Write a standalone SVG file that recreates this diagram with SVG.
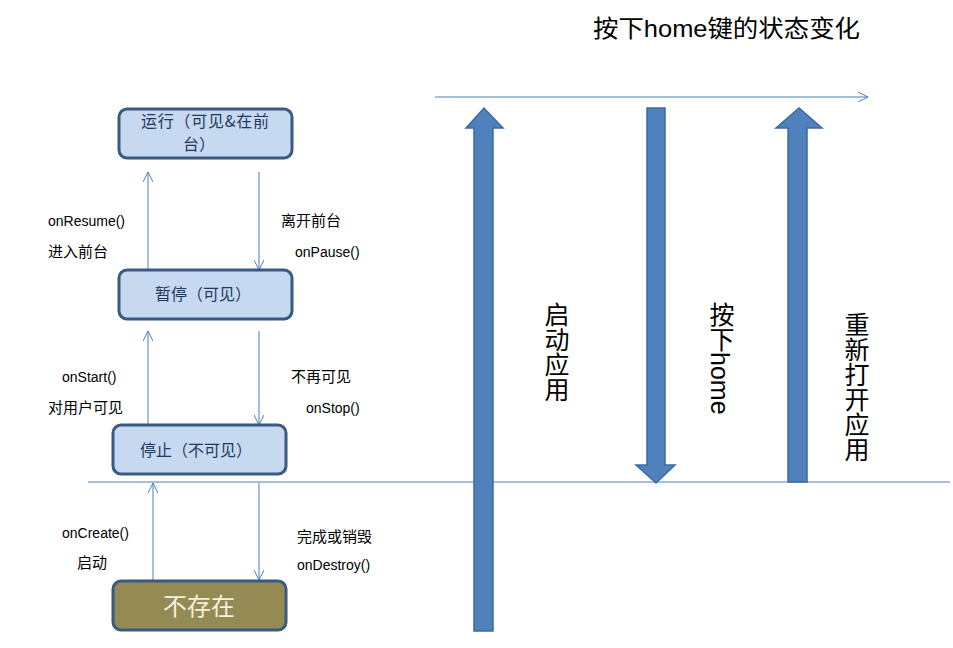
<svg xmlns="http://www.w3.org/2000/svg" width="953" height="648" viewBox="0 0 953 648">
<defs>
<marker id="open" viewBox="0 0 10 10" refX="10" refY="5" markerWidth="10" markerHeight="10" markerUnits="userSpaceOnUse" orient="auto">
<path d="M0,0 L10,5 L0,10" fill="none" stroke="#4a7ebb" stroke-width="1"/>
</marker>
</defs>
<style>
.box{fill:#c6d9f1;stroke:#3b5a82;stroke-width:3}
.dead{fill:#948a54;stroke:#3b5a82;stroke-width:3}
.bt{font-family:"Noto Sans CJK SC",sans-serif;font-size:16px;fill:#1f3a60;text-anchor:middle}
.lbl{font-family:"Liberation Sans","Noto Sans CJK SC",sans-serif;font-size:14px;fill:#000}
.cn{font-family:"Noto Sans CJK SC",sans-serif;font-size:15px;fill:#000}
.conn{stroke:#4a7ebb;stroke-width:1;fill:none}
.big{fill:#4f81bd;stroke:#3e6a9e;stroke-width:1.5}
.vt{font-family:"Liberation Sans","Noto Sans CJK SC",sans-serif;font-size:25px;fill:#000;writing-mode:vertical-rl}
</style>
<rect width="953" height="648" fill="#fff"/>
<text x="593" y="37" font-family="Liberation Sans,'Noto Sans CJK SC',sans-serif" font-size="24" fill="#000" textLength="267" lengthAdjust="spacingAndGlyphs">按下home键的状态变化</text>
<g id="connectors">
<line class="conn" x1="435" y1="97" x2="868" y2="97" marker-end="url(#open)"/>
<line class="conn" x1="88" y1="482" x2="950" y2="482"/>
<line class="conn" x1="148" y1="270" x2="148" y2="172" marker-end="url(#open)"/>
<line class="conn" x1="259" y1="172" x2="259" y2="270" marker-end="url(#open)"/>
<line class="conn" x1="148" y1="425" x2="148" y2="331" marker-end="url(#open)"/>
<line class="conn" x1="259" y1="331" x2="259" y2="425" marker-end="url(#open)"/>
<line class="conn" x1="153" y1="580" x2="153" y2="483" marker-end="url(#open)"/>
<line class="conn" x1="259" y1="483" x2="259" y2="580" marker-end="url(#open)"/>
<text class="lbl" x="48" y="226">onResume()</text>
<text class="cn" x="48" y="257">进入前台</text>
<text class="cn" x="281" y="226">离开前台</text>
<text class="lbl" x="295" y="257">onPause()</text>
<text class="lbl" x="62" y="382">onStart()</text>
<text class="cn" x="48" y="413">对用户可见</text>
<text class="cn" x="291" y="382">不再可见</text>
<text class="lbl" x="306" y="413">onStop()</text>
<text class="lbl" x="62" y="538">onCreate()</text>
<text class="cn" x="77" y="568">启动</text>
<text class="cn" x="297" y="542">完成或销毁</text>
<text class="lbl" x="297" y="570">onDestroy()</text>
</g>
<g id="running">
<rect class="box" x="119" y="109" width="173" height="49" rx="8"/>
<text class="bt" x="205" y="127" font-size="15" textLength="128" lengthAdjust="spacing">运行（可见&amp;在前</text>
<text class="bt" x="199" y="150" font-size="15">台）</text>
</g>
<g id="paused">
<rect class="box" x="119" y="270" width="173" height="49" rx="8"/>
<text class="bt" x="203" y="300">暂停（可见）</text>
</g>
<g id="stopped">
<rect class="box" x="113" y="425" width="173" height="49" rx="8"/>
<text class="bt" x="196" y="456">停止（不可见）</text>
</g>
<g id="nonexistent">
<rect class="dead" x="113" y="581" width="173" height="49" rx="8"/>
<text x="199" y="615" font-family="'Noto Sans CJK SC',sans-serif" font-size="24" fill="#f5f0dc" text-anchor="middle">不存在</text>
</g>
<g id="launch">
<path class="big" d="M474,631 L474,128 L466,128 L484,108 L503,128 L493,128 L493,631 Z"/>
<text class="vt" x="555" y="302">启动应用</text>
</g>
<g id="home">
<path class="big" d="M647,108 L665,108 L665,465 L675,465 L656,483 L636,465 L647,465 Z"/>
<text class="vt" x="720" y="302">按下home</text>
</g>
<g id="reopen">
<path class="big" d="M788,482 L788,128 L776,128 L799,108 L822,128 L807,128 L807,482 Z"/>
<text class="vt" x="855" y="312">重新打开应用</text>
</g>
</svg>
